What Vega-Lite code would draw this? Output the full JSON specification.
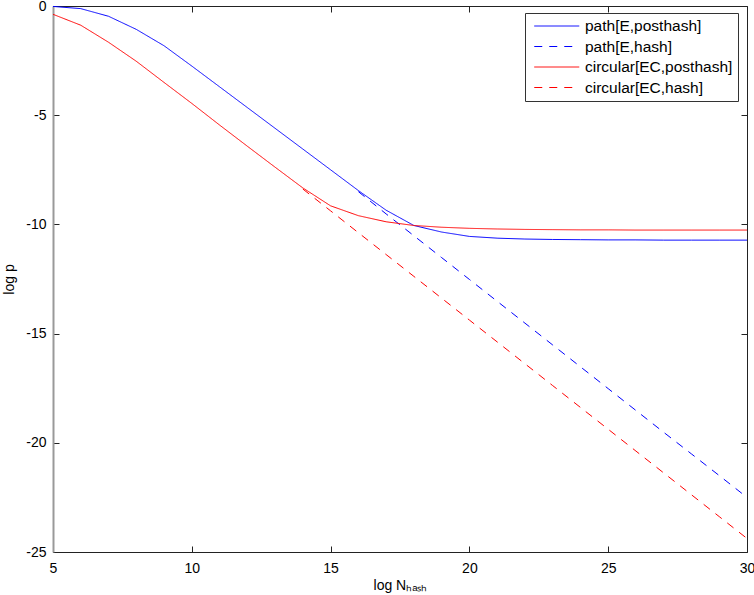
{
  "$schema": "https://vega.github.io/schema/vega-lite/v6.json",
  "width": 694,
  "height": 546,
  "autosize": {"type": "none"},
  "padding": {"left": 53, "top": 6, "right": 7, "bottom": 43},
  "background": "white",
  "config": {
    "view": {"stroke": null},
    "font": "Liberation Sans",
    "axis": {"grid": false, "tickSize": -6, "tickColor": "#222", "domainColor": "#222", "labelFont": "Liberation Sans", "titleFont": "Liberation Sans", "labelFontSize": 14, "titleFontSize": 14, "titleFontWeight": "normal", "labelColor": "#000", "titleColor": "#000"},
    "legend": {"labelFont": "Liberation Sans", "labelFontSize": 15.5, "labelColor": "#000", "labelLimit": 400}
  },
  "data": {"values": [
    {"x": 5, "y": -0.02, "s": "path[E,posthash]"},
    {"x": 6, "y": -0.12, "s": "path[E,posthash]"},
    {"x": 7, "y": -0.47, "s": "path[E,posthash]"},
    {"x": 8, "y": -1.07, "s": "path[E,posthash]"},
    {"x": 9, "y": -1.82, "s": "path[E,posthash]"},
    {"x": 10, "y": -2.75, "s": "path[E,posthash]"},
    {"x": 11, "y": -3.7, "s": "path[E,posthash]"},
    {"x": 12, "y": -4.65, "s": "path[E,posthash]"},
    {"x": 13, "y": -5.6, "s": "path[E,posthash]"},
    {"x": 14, "y": -6.55, "s": "path[E,posthash]"},
    {"x": 15, "y": -7.5, "s": "path[E,posthash]"},
    {"x": 16, "y": -8.45, "s": "path[E,posthash]"},
    {"x": 17, "y": -9.35, "s": "path[E,posthash]"},
    {"x": 18, "y": -10.05, "s": "path[E,posthash]"},
    {"x": 19, "y": -10.35, "s": "path[E,posthash]"},
    {"x": 20, "y": -10.55, "s": "path[E,posthash]"},
    {"x": 21, "y": -10.63, "s": "path[E,posthash]"},
    {"x": 22, "y": -10.67, "s": "path[E,posthash]"},
    {"x": 23, "y": -10.69, "s": "path[E,posthash]"},
    {"x": 24, "y": -10.7, "s": "path[E,posthash]"},
    {"x": 25, "y": -10.71, "s": "path[E,posthash]"},
    {"x": 26, "y": -10.71, "s": "path[E,posthash]"},
    {"x": 27, "y": -10.72, "s": "path[E,posthash]"},
    {"x": 28, "y": -10.72, "s": "path[E,posthash]"},
    {"x": 29, "y": -10.72, "s": "path[E,posthash]"},
    {"x": 30, "y": -10.72, "s": "path[E,posthash]"},
    {"x": 16, "y": -8.5, "s": "path[E,hash]"},
    {"x": 17, "y": -9.52, "s": "path[E,hash]"},
    {"x": 18, "y": -10.52, "s": "path[E,hash]"},
    {"x": 19, "y": -11.52, "s": "path[E,hash]"},
    {"x": 20, "y": -12.52, "s": "path[E,hash]"},
    {"x": 21, "y": -13.52, "s": "path[E,hash]"},
    {"x": 22, "y": -14.52, "s": "path[E,hash]"},
    {"x": 23, "y": -15.52, "s": "path[E,hash]"},
    {"x": 24, "y": -16.52, "s": "path[E,hash]"},
    {"x": 25, "y": -17.52, "s": "path[E,hash]"},
    {"x": 26, "y": -18.52, "s": "path[E,hash]"},
    {"x": 27, "y": -19.52, "s": "path[E,hash]"},
    {"x": 28, "y": -20.51, "s": "path[E,hash]"},
    {"x": 29, "y": -21.5, "s": "path[E,hash]"},
    {"x": 30, "y": -22.5, "s": "path[E,hash]"},
    {"x": 5, "y": -0.38, "s": "circular[EC,posthash]"},
    {"x": 6, "y": -0.88, "s": "circular[EC,posthash]"},
    {"x": 7, "y": -1.66, "s": "circular[EC,posthash]"},
    {"x": 8, "y": -2.53, "s": "circular[EC,posthash]"},
    {"x": 9, "y": -3.5, "s": "circular[EC,posthash]"},
    {"x": 10, "y": -4.46, "s": "circular[EC,posthash]"},
    {"x": 11, "y": -5.45, "s": "circular[EC,posthash]"},
    {"x": 12, "y": -6.42, "s": "circular[EC,posthash]"},
    {"x": 13, "y": -7.38, "s": "circular[EC,posthash]"},
    {"x": 14, "y": -8.33, "s": "circular[EC,posthash]"},
    {"x": 15, "y": -9.15, "s": "circular[EC,posthash]"},
    {"x": 16, "y": -9.6, "s": "circular[EC,posthash]"},
    {"x": 17, "y": -9.88, "s": "circular[EC,posthash]"},
    {"x": 18, "y": -10.05, "s": "circular[EC,posthash]"},
    {"x": 19, "y": -10.13, "s": "circular[EC,posthash]"},
    {"x": 20, "y": -10.18, "s": "circular[EC,posthash]"},
    {"x": 21, "y": -10.21, "s": "circular[EC,posthash]"},
    {"x": 22, "y": -10.23, "s": "circular[EC,posthash]"},
    {"x": 23, "y": -10.24, "s": "circular[EC,posthash]"},
    {"x": 24, "y": -10.25, "s": "circular[EC,posthash]"},
    {"x": 25, "y": -10.25, "s": "circular[EC,posthash]"},
    {"x": 26, "y": -10.26, "s": "circular[EC,posthash]"},
    {"x": 27, "y": -10.26, "s": "circular[EC,posthash]"},
    {"x": 28, "y": -10.26, "s": "circular[EC,posthash]"},
    {"x": 29, "y": -10.26, "s": "circular[EC,posthash]"},
    {"x": 30, "y": -10.26, "s": "circular[EC,posthash]"},
    {"x": 14, "y": -8.38, "s": "circular[EC,hash]"},
    {"x": 15, "y": -9.38, "s": "circular[EC,hash]"},
    {"x": 16, "y": -10.38, "s": "circular[EC,hash]"},
    {"x": 17, "y": -11.38, "s": "circular[EC,hash]"},
    {"x": 18, "y": -12.38, "s": "circular[EC,hash]"},
    {"x": 19, "y": -13.38, "s": "circular[EC,hash]"},
    {"x": 20, "y": -14.38, "s": "circular[EC,hash]"},
    {"x": 21, "y": -15.38, "s": "circular[EC,hash]"},
    {"x": 22, "y": -16.38, "s": "circular[EC,hash]"},
    {"x": 23, "y": -17.38, "s": "circular[EC,hash]"},
    {"x": 24, "y": -18.38, "s": "circular[EC,hash]"},
    {"x": 25, "y": -19.38, "s": "circular[EC,hash]"},
    {"x": 26, "y": -20.38, "s": "circular[EC,hash]"},
    {"x": 27, "y": -21.38, "s": "circular[EC,hash]"},
    {"x": 28, "y": -22.38, "s": "circular[EC,hash]"},
    {"x": 29, "y": -23.38, "s": "circular[EC,hash]"},
    {"x": 30, "y": -24.38, "s": "circular[EC,hash]"}
  ]},
  "layer": [
    {
      "mark": {"type": "line", "strokeWidth": 1},
      "encoding": {
        "x": {"field": "x", "type": "quantitative", "scale": {"domain": [5, 30], "nice": false, "zero": false},
          "axis": {"orient": "bottom", "values": [5, 10, 15, 20, 25, 30], "title": "log Nₕₐₛₕ", "labelPadding": 15, "titlePadding": 3, "labelFlush": false}},
        "y": {"field": "y", "type": "quantitative", "scale": {"domain": [-25, 0], "nice": false, "zero": false},
          "axis": {"orient": "left", "values": [-25, -20, -15, -10, -5, 0], "title": "log p", "labelExpr": "'' + datum.value", "labelPadding": 13, "titlePadding": 9, "domainColor": "#999", "domainWidth": 2}},
        "color": {"field": "s", "type": "nominal",
          "scale": {"domain": ["path[E,posthash]", "path[E,hash]", "circular[EC,posthash]", "circular[EC,hash]"], "range": ["#0000ff", "#0000ff", "#ff0000", "#ff0000"]},
          "legend": {"title": null, "orient": "none", "legendX": 472, "legendY": 7, "symbolType": "M-0.5,0H5.5", "symbolSize": 225, "symbolStrokeWidth": 1, "strokeColor": "#333", "padding": 5, "rowPadding": 3.5, "labelOffset": 39, "labelFontSize": 15.5, "fillColor": "white",
            "encode": {"symbols": {"update": {"stroke": {"scale": "color", "field": "value"}}}}}},
        "strokeDash": {"field": "s", "type": "nominal",
          "scale": {"domain": ["path[E,posthash]", "path[E,hash]", "circular[EC,posthash]", "circular[EC,hash]"], "range": [[1, 0], [8, 7], [1, 0], [8, 7]]},
          "legend": {"title": null, "orient": "none", "legendX": 472, "legendY": 7, "symbolType": "M-0.5,0H5.5", "symbolSize": 225, "symbolStrokeWidth": 1, "strokeColor": "#333", "padding": 5, "rowPadding": 3.5, "labelOffset": 39, "labelFontSize": 15.5, "fillColor": "white",
            "encode": {"symbols": {"update": {"stroke": {"scale": "color", "field": "value"}}}}}}
      }
    },
    {
      "mark": {"type": "line", "opacity": 0},
      "encoding": {
        "x": {"field": "x", "type": "quantitative", "scale": {"domain": [5, 30], "nice": false, "zero": false},
          "axis": {"orient": "top", "values": [5, 10, 15, 20, 25, 30], "labels": false, "title": null}},
        "y": {"field": "y", "type": "quantitative", "scale": {"domain": [-25, 0], "nice": false, "zero": false},
          "axis": {"orient": "right", "values": [-25, -20, -15, -10, -5, 0], "labels": false, "title": null}},
        "detail": {"field": "s", "type": "nominal"}
      }
    }
  ],
  "resolve": {"axis": {"x": "independent", "y": "independent"}}
}
